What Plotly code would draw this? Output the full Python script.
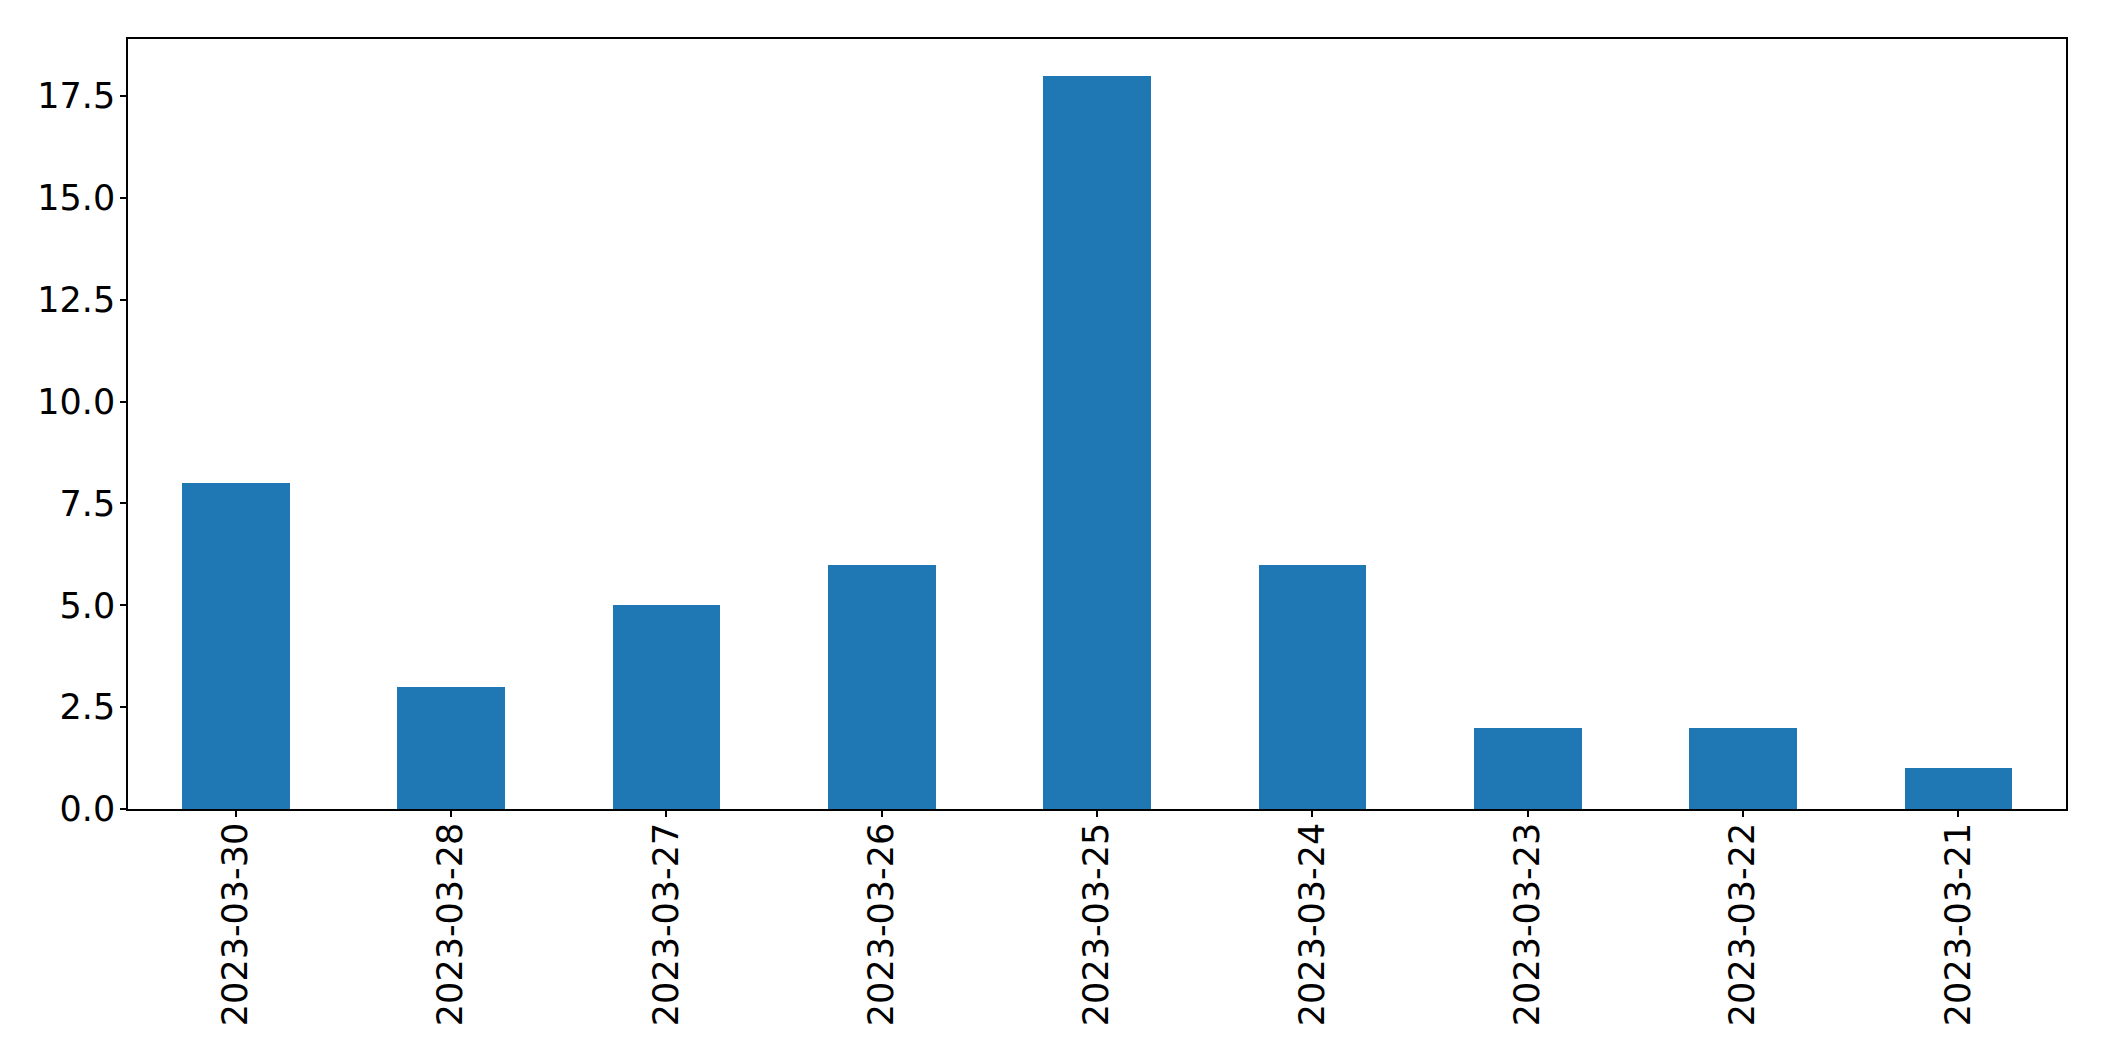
import plotly.graph_objects as go

dates = ["2023-03-30", "2023-03-28", "2023-03-27", "2023-03-26", "2023-03-25",
         "2023-03-24", "2023-03-23", "2023-03-22", "2023-03-21"]
counts = [8, 3, 5, 6, 18, 6, 2, 2, 1]
y_ticks = [0.0, 2.5, 5.0, 7.5, 10.0, 12.5, 15.0, 17.5]

fig = go.Figure()
fig.add_trace(go.Bar(x=dates, y=counts, marker=dict(color="#1f77b4", line=dict(width=0)), width=0.5))

font = dict(family="DejaVu Sans", size=35, color="black")
fig.update_layout(
    width=2096, height=1053,
    margin=dict(l=120, r=38, t=31, b=252),
    plot_bgcolor="white", paper_bgcolor="white",
    showlegend=False,
    font=font,
    bargap=0,
)
fig.update_xaxes(type="category", range=[-0.5, 8.5], tickangle=-90,
                 showline=True, linecolor="black", linewidth=1.5, mirror=True,
                 ticks="outside", ticklen=6, tickwidth=1.5, tickcolor="black",
                 showgrid=False, tickfont=font, ticklabelstandoff=-8)
fig.update_yaxes(range=[0, 18.9], tickvals=y_ticks, ticktext=[f"{v:.1f}" for v in y_ticks],
                 showline=True, linecolor="black", linewidth=1.5, mirror=True,
                 ticks="outside", ticklen=6, tickwidth=1.5, tickcolor="black",
                 showgrid=False, zeroline=False, tickfont=font, ticklabelstandoff=-2)
fig.write_html("out.html")
